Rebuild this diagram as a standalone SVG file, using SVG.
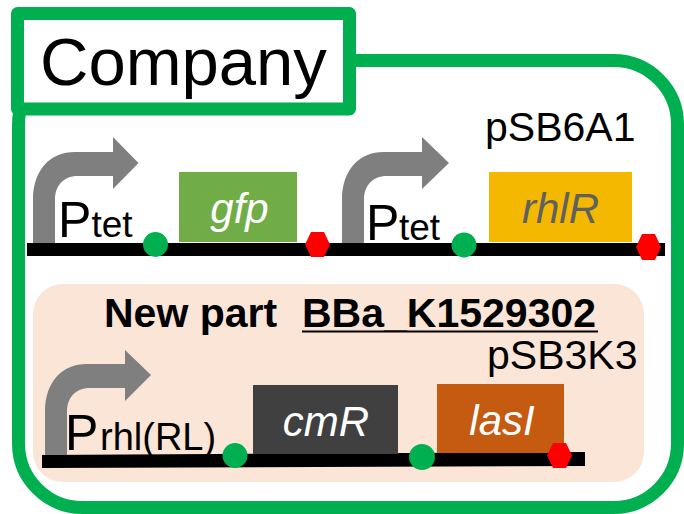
<svg xmlns="http://www.w3.org/2000/svg" width="684" height="514" viewBox="0 0 684 514">
<style>
text{font-family:"Liberation Sans",Arial,sans-serif}
.bar{fill:#000}
.g{fill:#00b050}
.r{fill:#f00}
.pro{fill:#7f7f7f}
.lbl{font-size:50px;fill:#000}
.sub{font-size:37px;fill:#000}
.gene{font-size:42px;font-style:italic;text-anchor:middle}
.big{font-size:41px;fill:#000}
</style>
<rect width="684" height="514" fill="#fff"/>
<g id="frame"><rect x="18.500" y="60.500" width="659" height="447" rx="64" fill="none" stroke="#00b050" stroke-width="13"/></g>
<g id="company"><rect x="17.500" y="13.500" width="332" height="95.500" fill="#fff" stroke="#00b050" stroke-width="13" stroke-linejoin="round"/>
<text x="40" y="85" font-size="67" fill="#000">Company</text></g>
<g id="panel"><rect x="33" y="284" width="611" height="198" rx="30" fill="#fbe5d6"/></g>
<g id="title"><text class="big" x="104" y="327" font-weight="700">New part</text>
<text class="big" x="302" y="327" font-weight="700">BBa_K1529302</text>
<rect x="302" y="330.500" width="296" height="2" fill="#000"/></g>
<g id="labels"><text class="big" x="485" y="141">pSB6A1</text>
<text class="big" x="487" y="369">pSB3K3</text></g>
<g id="connectors">
<rect class="bar" x="27" y="243" width="638" height="13"/>
<polygon class="bar" points="42,455 585,452 585,466 42,468"/>
</g>
<g id="ptet1"><path class="pro" d="M33 243V200C33 170 50 152 75 152H113V137L138.500 163L113 189V176H78C63 176 55 186 55 200V243Z"/>
<text class="lbl" x="58" y="237">P</text><text class="sub" x="91.500" y="237">tet</text></g>
<g id="ptet2"><path class="pro" d="M342 243V200C342 170 359 152 384 152H422V137L449 163L422 189V176H387C372 176 364 186 364 200V243Z"/>
<text class="lbl" x="366" y="240">P</text><text class="sub" x="399" y="240">tet</text></g>
<g id="prhl"><path class="pro" d="M45 455V412C45 382 62 364 87 364H125V350L151 375L125 401V388H90C75 388 67 398 67 412V455Z"/>
<text class="lbl" x="65" y="450">P</text><text class="sub" x="100" y="450" style="font-size:38px">rhl(RL)</text></g>
<g id="gfp"><rect x="179" y="172" width="118" height="70" fill="#70ad47"/><text class="gene" x="239.500" y="223" fill="#fff">gfp</text></g>
<g id="rhlR"><rect x="489" y="172" width="143" height="70" fill="#f4b800"/><text class="gene" x="560.500" y="223" fill="#5f6060">rhlR</text></g>
<g id="cmR"><rect x="253" y="385" width="145" height="69" fill="#404040"/><text class="gene" x="326" y="436" fill="#fff">cmR</text></g>
<g id="lasI"><rect x="437" y="384" width="127" height="69" fill="#c55a11"/><text class="gene" x="502" y="435" fill="#fff">lasI</text></g>
<g id="ribosomes">
<circle class="g" cx="155.500" cy="244.500" r="12.500"/>
<circle class="g" cx="464" cy="245" r="12.500"/>
<circle class="g" cx="235" cy="455.500" r="12.500"/>
<circle class="g" cx="422" cy="457" r="13"/>
</g>
<g id="terminators">
<polygon class="r" points="305,244.500 311,232 324,232 330,244.500 324,257 311,257"/>
<polygon class="r" points="636,247 642,234 655,234 661,247 655,260 642,260"/>
<polygon class="r" points="547,455.500 553,443 566,443 572,455.500 566,468 553,468"/>
</g>
</svg>
